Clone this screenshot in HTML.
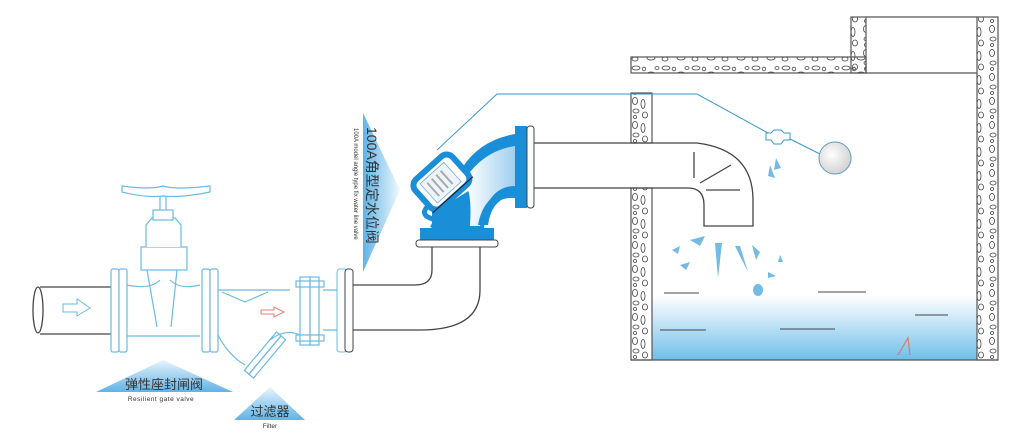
<!DOCTYPE html>
<html><head><meta charset="utf-8"><style>
html,body{margin:0;padding:0;background:#fff;width:1024px;height:441px;overflow:hidden}
svg{display:block}
text{font-family:"Liberation Sans","Noto Sans CJK SC",sans-serif}
</style></head><body>
<svg width="1024" height="441" viewBox="0 0 1024 441" xmlns="http://www.w3.org/2000/svg">
<defs>
<linearGradient id="water" x1="0" y1="0" x2="0" y2="1">
<stop offset="0" stop-color="#fff"/><stop offset="0.35" stop-color="#cfe9f8"/><stop offset="1" stop-color="#6fbfe9"/></linearGradient>
<linearGradient id="tri" x1="0" y1="0" x2="0" y2="1">
<stop offset="0" stop-color="#e8f4fc"/><stop offset="1" stop-color="#5fb3e6"/></linearGradient>
<linearGradient id="triv" x1="0" y1="0" x2="1" y2="0">
<stop offset="0" stop-color="#5fb3e6"/><stop offset="1" stop-color="#f0f8fe"/></linearGradient>
<linearGradient id="elb" x1="0" y1="0" x2="1" y2="0">
<stop offset="0" stop-color="#fff"/><stop offset="1" stop-color="#9fd0f0"/></linearGradient>
<radialGradient id="ball" cx="0.4" cy="0.4" r="0.7"><stop offset="0" stop-color="#fff"/><stop offset="1" stop-color="#ccc"/></radialGradient>
<pattern id="stone" width="21" height="24" patternUnits="userSpaceOnUse">
<ellipse cx="5" cy="5" rx="2.5" ry="3.5" fill="none" stroke="#444" stroke-width="0.8"/>
<ellipse cx="13" cy="8" rx="2" ry="4.5" fill="none" stroke="#444" stroke-width="0.8"/>
<ellipse cx="6" cy="15" rx="3" ry="2" fill="none" stroke="#444" stroke-width="0.8"/>
<ellipse cx="15" cy="19" rx="2.5" ry="3" fill="none" stroke="#444" stroke-width="0.8"/>
<ellipse cx="5" cy="21" rx="1.5" ry="1.5" fill="none" stroke="#444" stroke-width="0.8"/>
</pattern>
<pattern id="stoneh" width="30" height="16" patternUnits="userSpaceOnUse">
<ellipse cx="6" cy="4" rx="4" ry="2" fill="none" stroke="#444" stroke-width="0.8"/>
<ellipse cx="14" cy="5" rx="1.8" ry="1.8" fill="none" stroke="#444" stroke-width="0.8"/>
<ellipse cx="5" cy="11" rx="3" ry="2" fill="none" stroke="#444" stroke-width="0.8"/>
<ellipse cx="21" cy="10" rx="4" ry="2" fill="none" stroke="#444" stroke-width="0.8"/>
<ellipse cx="27" cy="4" rx="2" ry="1.5" fill="none" stroke="#444" stroke-width="0.8"/>
</pattern>
</defs>

<rect x="652" y="295" width="325" height="65" fill="url(#water)"/>
<g stroke="#555" stroke-width="1.2">
<rect x="631" y="57" width="235" height="16" fill="url(#stoneh)"/>
<rect x="851" y="17" width="15" height="56" fill="url(#stone)"/>
<rect x="977" y="17" width="21" height="343" fill="url(#stone)"/>
<rect x="631" y="93" width="21" height="50" fill="url(#stone)"/>
<rect x="631" y="188" width="21" height="172" fill="url(#stone)"/>
<line x1="866" y1="17" x2="977" y2="17"/>
<line x1="866" y1="73" x2="977" y2="73"/>
<line x1="631" y1="360" x2="998" y2="360"/>
</g>
<g stroke="#444" stroke-width="1">
<line x1="664" y1="293" x2="699" y2="293"/><line x1="818" y1="292" x2="866" y2="292"/>
<line x1="915" y1="315" x2="948" y2="315"/><line x1="660" y1="330" x2="706" y2="330"/>
<line x1="780" y1="329" x2="835" y2="329"/>
</g>
<path d="M898 355 L908 338 L910 355" fill="none" stroke="#d08070" stroke-width="1.2"/>
<g fill="#5ab0e0" opacity="0.85">
<path d="M690 240 L705 236 L700 246Z"/><path d="M672 250 L680 246 L678 254Z"/>
<path d="M680 265 L690 262 L686 270Z"/><path d="M715 243 L722 243 L718 278Z"/>
<path d="M735 246 L740 246 L748 272Z"/><path d="M752 245 L760 252 L756 260Z"/>
<path d="M780 255 L783 262 L778 262Z"/><path d="M768 272 L776 276 L768 278Z"/>
<ellipse cx="758" cy="290" rx="5" ry="6"/>
<path d="M776 158 L781 168 L774 170Z"/><path d="M770 165 L775 178 L768 176Z"/>
</g>
<g fill="none" stroke="#444" stroke-width="1.3">
<path d="M534 143 H697 Q753 150 753 200 V226 H704 V205 Q704 188 688 188 H534"/>
<line x1="694" y1="152" x2="694" y2="178"/><line x1="700" y1="183" x2="731" y2="165"/>
<line x1="706" y1="190" x2="740" y2="190"/>
</g>
<g fill="none" stroke="#3a9ac8" stroke-width="1">
<path d="M437 150 L497 94 H697 L768 133"/>
<path d="M790 139 L822 155"/>
<path d="M766 133 H771 L774 130 H781 L784 133 H790 V140 H784 L781 144 H774 L771 140 H766Z"/>
</g>
<circle cx="835" cy="158" r="16" fill="url(#ball)" stroke="#5a9cc4"/>

<g fill="none" stroke="#444" stroke-width="1.3">
<path d="M432 246 V270 Q432 285 415 285 H353"/>
<path d="M480 246 V290 Q480 330 420 330 H353"/>
</g>
<rect x="337" y="269" width="10" height="83" rx="3" fill="#fff" stroke="#6bbbe3"/>
<rect x="345" y="269" width="8" height="83" rx="3" fill="#fff" stroke="#444"/>

<!-- angle valve -->
<g>
<!-- elbow body -->
<path d="M462 168 Q480 140 515 134 V126 H527 V208 H515 V198 Q488 196 484 228 H494 V240 H420 V228 H432 V210 L446 205 L470 190Z" fill="#1a8fd8"/>
<path d="M470 172 Q488 150 515 146 V186 Q488 186 480 226 H470 Q472 195 466 185Z" fill="url(#elb)"/>
<path d="M478 225 Q484 192 515 188 V196 Q492 197 488 225Z" fill="#1a8fd8"/>
<!-- bonnet -->
<g transform="rotate(-42 440 182)">
<rect x="416" y="164" width="50" height="38" rx="8" fill="#fff" stroke="#1a8fd8" stroke-width="6"/>
<rect x="424" y="170" width="32" height="26" fill="#eef5fa" stroke="#7aaed0" stroke-width="0.8"/>
<path d="M430 174 V192 M436 174 V192 M442 174 V192 M448 174 V192" stroke="#aaa" stroke-width="2"/>
<path d="M414 200 H468" stroke="#123" stroke-width="1.2"/>
</g>
<path d="M428 206 Q420 214 430 218 Q438 220 432 228" fill="none" stroke="#1a8fd8" stroke-width="5"/>
<rect x="416" y="240" width="82" height="7" rx="3" fill="#fff" stroke="#444"/>
<rect x="527" y="126" width="7" height="82" rx="3" fill="#fff" stroke="#444"/>
</g>

<g fill="none" stroke="#444" stroke-width="1.3">
<path d="M111 287 H40 M111 334 H40"/>
<ellipse cx="38" cy="310" rx="5" ry="23"/>
</g>
<g fill="#fff" stroke="#6bbbe3" stroke-width="1.2">
<path d="M127 285 Q150 290 160 280 M200 285 Q180 290 170 280 M127 336 H200"/>
<rect x="111" y="269" width="8" height="83" rx="2"/><rect x="119" y="269" width="8" height="83" rx="2"/>
<rect x="202" y="269" width="8" height="83" rx="2"/><rect x="210" y="269" width="8" height="83" rx="2"/>
<path d="M147 270 L157 327 M177 270 L171 327"/>
<rect x="141" y="247" width="46" height="23"/>
<path d="M146 247 V225 L152 218 H175 L181 225 V247"/>
<rect x="153" y="210" width="20" height="10"/>
<path d="M160 210 V190 M166 210 V190"/>
<path d="M122 186 Q150 190 163 186 Q176 190 210 186 V192 Q180 198 163 196 Q146 198 122 192Z"/>
</g>
<g fill="none" stroke="#6bbbe3" stroke-width="1.2">
<path d="M218 290 H290 M218 335 Q228 355 245 365 M270 340 Q285 328 300 335"/>
<path d="M222 292 L245 302 L268 292"/>
<rect x="300" y="277" width="10" height="68"/><rect x="310" y="277" width="9" height="68"/>
<rect x="296" y="281" width="28" height="6"/><rect x="296" y="335" width="28" height="6"/>
<path d="M323 290 H337 M323 330 H337"/>
<g transform="rotate(-50 265 355)"><rect x="240" y="349" width="50" height="6"/><rect x="240" y="355" width="50" height="6"/></g>
</g>
<path d="M63 304 H77 V299 L90 308 L77 316 V312 H63Z" fill="#fff" stroke="#6bbbe3"/>
<path d="M261 310 H274 V307 L284 312 L274 317 V314 H261Z" fill="#fff" stroke="#e08070"/>

<path d="M163 360 L233 392 H96Z" fill="url(#tri)"/>
<text x="164" y="389" font-size="13" text-anchor="middle" fill="#333">弹性座封闸阀</text>
<text x="161" y="401" font-size="6.5" text-anchor="middle" fill="#333" letter-spacing="0.5">Resilient  gate valve</text>
<path d="M270 387 L305 420 H234Z" fill="url(#tri)"/>
<text x="270" y="416" font-size="13" text-anchor="middle" fill="#333">过滤器</text>
<text x="270" y="428" font-size="6.5" text-anchor="middle" fill="#333">Filter</text>
<path d="M363 113 L400 190 L363 272Z" fill="url(#triv)"/>
<text transform="translate(367 127) rotate(90)" font-size="14" fill="#333">100A角型定水位阀</text>
<text transform="translate(354 128) rotate(90)" font-size="6" fill="#333">100A model angle type fix water line valve</text>
</svg>
</body></html>
